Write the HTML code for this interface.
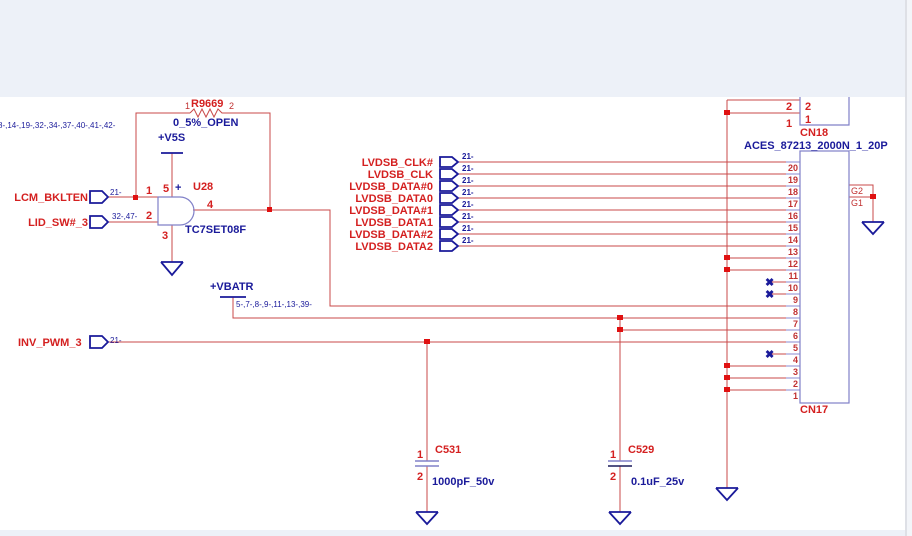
<!DOCTYPE html>
<html><head><meta charset="utf-8"><style>
html,body{margin:0;padding:0;background:#fff}
svg{display:block}
text{font-family:"Liberation Sans",Arial,sans-serif;font-weight:bold}
.r{fill:#d42020;font-size:11px}
.b{fill:#1a1a9a;font-size:11px}
.s{fill:#1a1a9a;font-size:8px;font-weight:normal}
.pn{fill:#c03030;font-size:9px;font-weight:normal}
</style></head><body>
<svg width="912" height="536" viewBox="0 0 912 536" xmlns="http://www.w3.org/2000/svg">
<rect x="0" y="0" width="912" height="97" fill="#edf1f8"/>
<rect x="0" y="530" width="912" height="6" fill="#edf1f8"/>
<rect x="905" y="0" width="7" height="536" fill="#f3f5f9"/>
<line x1="906" y1="0" x2="906" y2="536" stroke="#c8ccd4" stroke-width="1"/>

<g stroke="#c84848" stroke-width="1" fill="none">
<polyline points="136,198 136,113 190,113"/>
<polyline points="190,113 194,109 198,117 202,109 206,117 210,109 214,117 218,109 222,113 270,113 270,210"/>
<line x1="108" y1="197" x2="158" y2="197"/>
<line x1="108" y1="222" x2="158" y2="222"/>
<polyline points="193,210 330,210 330,306 800,306"/>
<line x1="172" y1="153" x2="172" y2="197"/>
<line x1="172" y1="225" x2="172" y2="262"/>
<polyline points="233,297 233,318 800,318"/>
<polyline points="620,330 800,330"/>
<line x1="620" y1="318" x2="620" y2="461"/>
<line x1="620" y1="466" x2="620" y2="512"/>
<line x1="108" y1="342" x2="800" y2="342"/>
<line x1="427" y1="342" x2="427" y2="461"/>
<line x1="427" y1="466" x2="427" y2="512"/>
<line x1="458" y1="162" x2="800" y2="162"/>
<line x1="458" y1="174" x2="800" y2="174"/>
<line x1="458" y1="186" x2="800" y2="186"/>
<line x1="458" y1="198" x2="800" y2="198"/>
<line x1="458" y1="210" x2="800" y2="210"/>
<line x1="458" y1="222" x2="800" y2="222"/>
<line x1="458" y1="234" x2="800" y2="234"/>
<line x1="458" y1="246" x2="800" y2="246"/>
<line x1="727" y1="100" x2="727" y2="488"/>
<line x1="727" y1="100" x2="800" y2="100"/>
<line x1="727" y1="113" x2="800" y2="113"/>
<line x1="727" y1="258" x2="800" y2="258"/>
<line x1="727" y1="270" x2="800" y2="270"/>
<line x1="770" y1="282" x2="800" y2="282"/>
<line x1="770" y1="294" x2="800" y2="294"/>
<line x1="770" y1="354" x2="800" y2="354"/>
<line x1="727" y1="366" x2="800" y2="366"/>
<line x1="727" y1="378" x2="800" y2="378"/>
<line x1="727" y1="390" x2="800" y2="390"/>
<polyline points="849,185 873,185 873,222"/>
<line x1="849" y1="197" x2="873" y2="197"/>
</g>
<g stroke="#8a8ad0" stroke-width="1">
<line x1="786" y1="162" x2="800" y2="162"/><line x1="786" y1="174" x2="800" y2="174"/>
<line x1="786" y1="186" x2="800" y2="186"/><line x1="786" y1="198" x2="800" y2="198"/>
<line x1="786" y1="210" x2="800" y2="210"/><line x1="786" y1="222" x2="800" y2="222"/>
<line x1="786" y1="234" x2="800" y2="234"/><line x1="786" y1="246" x2="800" y2="246"/>
<line x1="786" y1="258" x2="800" y2="258"/><line x1="786" y1="270" x2="800" y2="270"/>
<line x1="786" y1="282" x2="800" y2="282"/><line x1="786" y1="294" x2="800" y2="294"/>
<line x1="786" y1="306" x2="800" y2="306"/><line x1="786" y1="318" x2="800" y2="318"/>
<line x1="786" y1="330" x2="800" y2="330"/><line x1="786" y1="342" x2="800" y2="342"/>
<line x1="786" y1="354" x2="800" y2="354"/><line x1="786" y1="366" x2="800" y2="366"/>
<line x1="786" y1="378" x2="800" y2="378"/><line x1="786" y1="390" x2="800" y2="390"/>
</g>
<g stroke="#8080c8" stroke-width="1.2" fill="none">
<polyline points="800,97 800,125 849,125 849,97"/>
<rect x="800" y="151" width="49" height="252"/>
</g>
<g fill="#e01010">
<rect x="133" y="195" width="5" height="5"/><rect x="267" y="207" width="5" height="5"/>
<rect x="724" y="110" width="6" height="5"/><rect x="724" y="255" width="6" height="5"/>
<rect x="724" y="267" width="6" height="5"/><rect x="724" y="363" width="6" height="5"/>
<rect x="724" y="375" width="6" height="5"/><rect x="724" y="387" width="6" height="5"/>
<rect x="617" y="315" width="6" height="5"/><rect x="617" y="327" width="6" height="5"/>
<rect x="424" y="339" width="6" height="5"/><rect x="870" y="194" width="6" height="5"/>
</g>
<g class="b" font-size="12"><text x="765" y="286">✖</text><text x="765" y="298">✖</text><text x="765" y="358">✖</text></g>

<g stroke="#1a1a9a" stroke-width="1.8" fill="none">
<path d="M158,197 L180,197 A14,14 0 0 1 180,225 L158,225 Z" stroke="#8080c8" stroke-width="1.2"/>
<line x1="161" y1="153" x2="183" y2="153"/>
<line x1="220" y1="297" x2="246" y2="297"/>
<line x1="161" y1="262" x2="183" y2="262"/><path d="M161,262 L172,275 L183,262"/>
<line x1="862" y1="222" x2="884" y2="222"/><path d="M862,222 L873,234 L884,222"/>
<line x1="716" y1="488" x2="738" y2="488"/><path d="M716,488 L727,500 L738,488"/>
<line x1="416" y1="512" x2="438" y2="512"/><path d="M416,512 L427,524 L438,512"/>
<line x1="609" y1="512" x2="631" y2="512"/><path d="M609,512 L620,524 L631,512"/>
<path d="M90,191 L102,191 L108,197 L102,203 L90,203 Z"/>
<path d="M90,216 L102,216 L108,222 L102,228 L90,228 Z"/>
<path d="M90,336 L102,336 L108,342 L102,348 L90,348 Z"/>
<path d="M440,157 L452,157 L458,162 L452,167 L440,167 Z"/>
<path d="M440,169 L452,169 L458,174 L452,179 L440,179 Z"/>
<path d="M440,181 L452,181 L458,186 L452,191 L440,191 Z"/>
<path d="M440,193 L452,193 L458,198 L452,203 L440,203 Z"/>
<path d="M440,205 L452,205 L458,210 L452,215 L440,215 Z"/>
<path d="M440,217 L452,217 L458,222 L452,227 L440,227 Z"/>
<path d="M440,229 L452,229 L458,234 L452,239 L440,239 Z"/>
<path d="M440,241 L452,241 L458,246 L452,251 L440,251 Z"/>
</g>
<g stroke="#8080c8" stroke-width="1.5"><line x1="415" y1="461" x2="439" y2="461"/><line x1="415" y1="466" x2="439" y2="466"/><line x1="608" y1="461" x2="632" y2="461"/></g>
<line x1="608" y1="466" x2="632" y2="466" stroke="#1a1a5a" stroke-width="1.5"/>

<text class="s" x="-2" y="128">8-,14-,19-,32-,34-,37-,40-,41-,42-</text>
<text class="pn" x="185" y="109">1</text><text class="r" x="191" y="107">R9669</text><text class="pn" x="229" y="109">2</text>
<text class="b" x="173" y="126">0_5%_OPEN</text>
<text class="b" x="158" y="141">+V5S</text>
<text class="r" x="193" y="190">U28</text>
<text class="r" x="163" y="192">5</text><text class="b" x="175" y="191" font-size="9">+</text>
<text class="r" x="146" y="194">1</text><text class="r" x="146" y="219">2</text>
<text class="r" x="207" y="208">4</text><text class="r" x="162" y="239">3</text>
<text class="b" x="185" y="233">TC7SET08F</text>
<text class="r" x="88" y="201" text-anchor="end">LCM_BKLTEN</text>
<text class="s" x="110" y="195">21-</text>
<text class="r" x="88" y="226" text-anchor="end">LID_SW#_3</text>
<text class="s" x="112" y="219">32-,47-</text>
<text class="b" x="210" y="290">+VBATR</text>
<text class="s" x="236" y="307">5-,7-,8-,9-,11-,13-,39-</text>
<text class="r" x="18" y="346">INV_PWM_3</text>
<text class="s" x="110" y="343">21-</text>
<g class="r" text-anchor="end">
<text x="433" y="166">LVDSB_CLK#</text><text x="433" y="178">LVDSB_CLK</text>
<text x="433" y="190">LVDSB_DATA#0</text><text x="433" y="202">LVDSB_DATA0</text>
<text x="433" y="214">LVDSB_DATA#1</text><text x="433" y="226">LVDSB_DATA1</text>
<text x="433" y="238">LVDSB_DATA#2</text><text x="433" y="250">LVDSB_DATA2</text>
</g>
<g class="s"><text x="462" y="159">21-</text><text x="462" y="171">21-</text><text x="462" y="183">21-</text><text x="462" y="195">21-</text><text x="462" y="207">21-</text><text x="462" y="219">21-</text><text x="462" y="231">21-</text><text x="462" y="243">21-</text></g>
<g class="pn" text-anchor="end">
<text x="798" y="171">20</text><text x="798" y="183">19</text><text x="798" y="195">18</text><text x="798" y="207">17</text><text x="798" y="219">16</text><text x="798" y="231">15</text><text x="798" y="243">14</text><text x="798" y="255">13</text><text x="798" y="267">12</text><text x="798" y="279">11</text><text x="798" y="291">10</text><text x="798" y="303">9</text><text x="798" y="315">8</text><text x="798" y="327">7</text><text x="798" y="339">6</text><text x="798" y="351">5</text><text x="798" y="363">4</text><text x="798" y="375">3</text><text x="798" y="387">2</text><text x="798" y="399">1</text>
</g>
<text class="r" x="786" y="110">2</text><text class="r" x="786" y="127">1</text>
<text class="r" x="805" y="110">2</text><text class="r" x="805" y="123">1</text>
<text class="r" x="800" y="136">CN18</text>
<text class="b" x="744" y="149">ACES_87213_2000N_1_20P</text>
<text class="pn" x="851" y="194">G2</text><text class="pn" x="851" y="206">G1</text>
<text class="r" x="800" y="413">CN17</text>
<text class="r" x="417" y="458">1</text><text class="r" x="417" y="480">2</text>
<text class="r" x="435" y="453">C531</text><text class="b" x="432" y="485">1000pF_50v</text>
<text class="r" x="610" y="458">1</text><text class="r" x="610" y="480">2</text>
<text class="r" x="628" y="453">C529</text><text class="b" x="631" y="485">0.1uF_25v</text>
</svg>
</body></html>
